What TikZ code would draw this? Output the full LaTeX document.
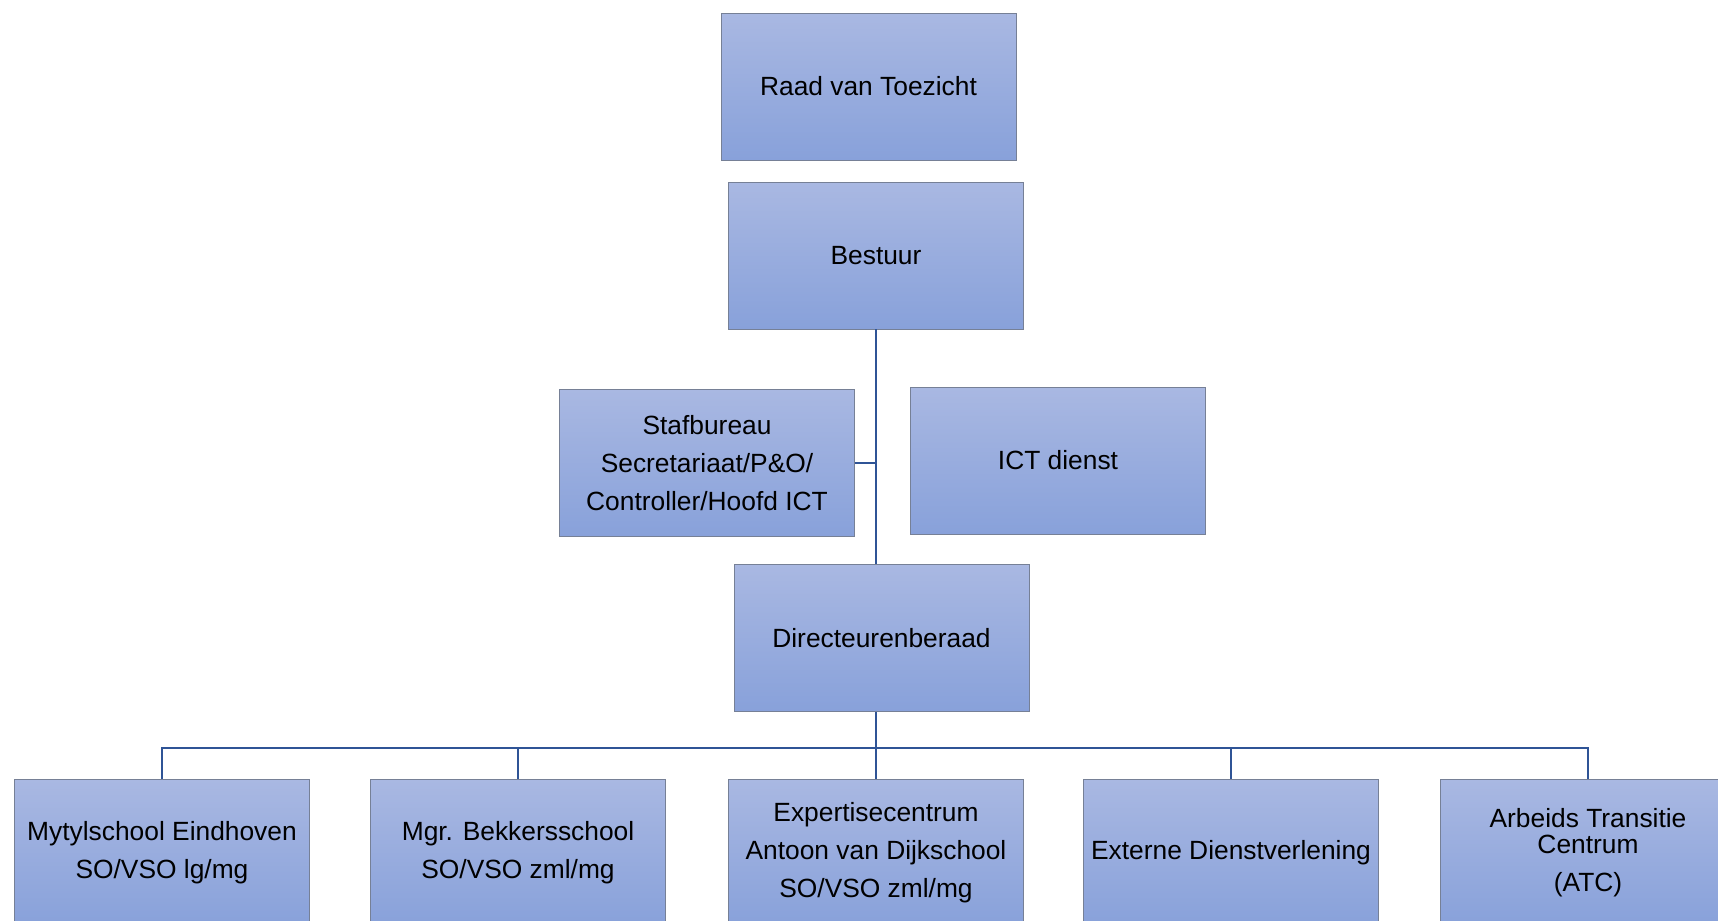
\documentclass[tikz,border=0pt]{standalone}
\usepackage{fontspec}
\setmainfont{Liberation Sans}
\usepackage{tikz}
\definecolor{boxtop}{RGB}{169, 184, 226}
\definecolor{boxbottom}{RGB}{136, 161, 218}
\definecolor{boxedge}{RGB}{118, 128, 150}
\definecolor{linkblue}{RGB}{47, 84, 150}
\tikzset{
    orgbox/.style={draw=boxedge, line width=0.5pt, top color=boxtop, bottom color=boxbottom,
                   minimum width=5.9cm, minimum height=2.94cm, inner sep=0pt, align=center,
                   font=\fontsize{15}{21.5}\selectfont},
    link/.style={draw=linkblue, line width=1.1pt}
}

\begin{document}
\begin{tikzpicture}[x=0.02cm, y=-0.02cm]
            \useasboundingbox (0,0) rectangle (1718,920);
            \clip (0,0) rectangle (1718,920);
            % top of the chart
            \node[orgbox] (raad) at ( 868.5,  86.5) {Raad van Toezicht};
            \node[orgbox] (best) at ( 876.0, 255.5) {Bestuur};
            \node[orgbox] (staf) at ( 707.0, 463.0) {Stafbureau\\Secretariaat/P\&O/\\Controller/Hoofd ICT};
            \node[orgbox] (ictd) at (1058.0, 460.5) {ICT dienst};
            \node[orgbox] (dir)  at ( 881.5, 638.0) {Directeurenberaad};
            % schools
            \node[orgbox] (myty) at ( 162.0, 852.5) {Mytylschool Eindhoven\\SO/VSO lg/mg};
            \node[orgbox] (bekk) at ( 518.0, 852.5) {Mgr. Bekkersschool\\SO/VSO zml/mg};
            \node[orgbox] (expc) at ( 876.0, 852.5) {Expertisecentrum\\Antoon van Dijkschool\\SO/VSO zml/mg};
            \node[orgbox] (extd) at (1231.0, 852.5) {Externe Dienstverlening};
            \node[orgbox] (atc)  at (1588.0, 852.5) {Arbeids Transitie\\[-6.5pt]Centrum\\(ATC)};
            % connectors
            \draw[link] (best.south) -- (best.south |- dir.north);
            \draw[link] (staf.east) -- (staf.east -| best.south);
            \coordinate (bus) at (876, 748);
            \draw[link] (best.south |- dir.south) -- (bus);
            \foreach \n in {myty, bekk, expc, extd, atc}
                \draw[link] (bus) -| (\n.north);
        \end{tikzpicture}
\end{document}
